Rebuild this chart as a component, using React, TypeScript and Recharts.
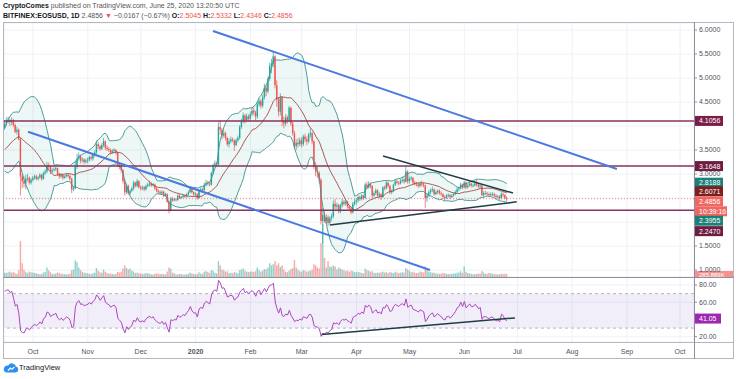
import {
  Area,
  Bar,
  CartesianGrid,
  ComposedChart,
  Line,
  ReferenceArea,
  ReferenceLine,
  XAxis,
  YAxis,
} from 'recharts';

// closes for the 24 days before the first visible candle (needed by BB / RSI)
const warmupCloses = [
  3.55, 3.5, 3.55, 3.6, 3.55, 3.45, 3.3, 3.25, 3.3, 3.28, 3.3, 3.35, 3.4, 3.45,
  3.42, 3.5, 3.55, 3.5, 3.45, 3.5, 3.6, 3.75, 3.85, 3.95,
];

// daily candles, 15 Sep 2019 -> 25 Jun 2020 (open = previous close)
const closes = [
  // Sep
  4.05, 4.1, 4.12, 4.08, 4.12, 4.02, 3.88, 3.92, 3.72, 2.95, 2.85, 2.8, 2.9, 2.92, 2.82, 2.88,
  // Oct
  2.92, 2.95, 2.9, 2.93, 2.98, 2.9, 3.02, 3.05, 3.18, 3.15, 3.05, 3.08, 3.1, 3.12, 3.0, 2.95,
  2.98, 2.92, 2.95, 2.98, 2.96, 2.9, 2.68, 2.7, 3.15, 3.32, 3.38, 3.28, 3.3, 3.25, 3.28,
  // Nov
  3.3, 3.35, 3.32, 3.4, 3.45, 3.62, 3.58, 3.52, 3.6, 3.68, 3.55, 3.52, 3.5, 3.45, 3.48, 3.5,
  3.45, 3.2, 3.15, 3.08, 2.85, 2.62, 2.75, 2.6, 2.65, 2.7, 2.82, 2.75, 2.85, 2.72,
  // Dec
  2.7, 2.72, 2.68, 2.75, 2.78, 2.8, 2.76, 2.78, 2.7, 2.65, 2.62, 2.6, 2.63, 2.55, 2.58, 2.42,
  2.25, 2.48, 2.45, 2.47, 2.46, 2.55, 2.5, 2.52, 2.55, 2.53, 2.58, 2.62, 2.7, 2.62, 2.58,
  // Jan
  2.58, 2.5, 2.65, 2.68, 2.66, 2.78, 2.82, 2.8, 2.78, 3.02, 3.18, 3.22, 3.2, 3.98, 3.92, 3.8,
  3.85, 3.75, 3.62, 3.68, 3.72, 3.7, 3.6, 3.7, 3.75, 3.98, 4.1, 4.22, 4.12, 4.2, 4.15,
  // Feb
  4.25, 4.32, 4.28, 4.2, 4.45, 4.52, 4.42, 4.6, 4.8, 4.72, 4.98, 5.25, 5.3, 5.45, 4.85, 4.55,
  4.3, 4.6, 4.1, 4.05, 4.18, 4.12, 4.38, 4.05, 3.85, 3.58, 3.65, 3.62, 3.7,
  // Mar
  3.62, 3.78, 3.72, 3.68, 3.82, 3.85, 3.68, 3.15, 3.05, 3.02, 2.88, 2.02, 2.15, 2.02, 2.1, 1.98,
  2.08, 2.12, 2.38, 2.32, 2.35, 2.22, 2.35, 2.42, 2.38, 2.42, 2.32, 2.28, 2.2, 2.38, 2.42,
  // Apr
  2.45, 2.52, 2.48, 2.55, 2.5, 2.78, 2.72, 2.8, 2.75, 2.55, 2.6, 2.66, 2.55, 2.58, 2.52, 2.72,
  2.7, 2.82, 2.75, 2.62, 2.65, 2.78, 2.85, 2.82, 2.8, 2.86, 2.88, 2.84, 3.05, 2.85,
  // May
  2.9, 2.92, 2.82, 2.8, 2.78, 2.75, 2.8, 2.78, 2.76, 2.5, 2.55, 2.62, 2.66, 2.68, 2.58, 2.62,
  2.65, 2.6, 2.58, 2.52, 2.5, 2.55, 2.56, 2.52, 2.55, 2.58, 2.62, 2.68, 2.7, 2.78, 2.72,
  // Jun
  2.82, 2.72, 2.76, 2.8, 2.76, 2.76, 2.8, 2.78, 2.74, 2.76, 2.56, 2.6, 2.6, 2.58, 2.56, 2.58,
  2.58, 2.55, 2.52, 2.53, 2.5, 2.58, 2.56, 2.5045, 2.4856,
];

const highs = [
  4.12, 4.18, 4.2, 4.15, 4.18, 4.15, 4.05, 3.98, 3.95, 3.75, 3.0, 2.95, 2.98, 3.0, 2.95, 2.92,
  2.96, 2.99, 2.98, 2.96, 3.02, 3.0, 3.05, 3.1, 3.25, 3.24, 3.18, 3.12, 3.14, 3.15, 3.13, 3.03,
  3.01, 3.0, 2.98, 3.02, 3.01, 2.99, 2.92, 2.75, 3.28, 3.42, 3.45, 3.4, 3.35, 3.33, 3.32,
  3.34, 3.38, 3.39, 3.43, 3.5, 3.7, 3.66, 3.6, 3.64, 3.75, 3.7, 3.6, 3.56, 3.53, 3.52, 3.54,
  3.52, 3.47, 3.25, 3.2, 3.1, 2.88, 2.8, 2.78, 2.68, 2.74, 2.86, 2.84, 2.9, 2.87,
  2.76, 2.76, 2.75, 2.78, 2.82, 2.86, 2.83, 2.81, 2.8, 2.73, 2.68, 2.66, 2.66, 2.65, 2.61, 2.6,
  2.44, 2.52, 2.52, 2.5, 2.5, 2.58, 2.58, 2.54, 2.58, 2.57, 2.6, 2.66, 2.74, 2.72, 2.64,
  2.62, 2.6, 2.68, 2.72, 2.71, 2.82, 2.88, 2.86, 2.84, 3.05, 3.22, 3.28, 3.26, 4.08, 4.12, 3.96,
  3.92, 3.88, 3.78, 3.74, 3.78, 3.76, 3.72, 3.74, 3.8, 4.02, 4.15, 4.28, 4.25, 4.26, 4.24,
  4.3, 4.4, 4.38, 4.32, 4.5, 4.58, 4.56, 4.65, 4.88, 4.85, 5.02, 5.32, 5.4, 5.55, 5.48, 4.95,
  4.6, 4.68, 4.62, 4.2, 4.25, 4.22, 4.42, 4.4, 4.1, 3.9, 3.72, 3.75, 3.76,
  3.76, 3.82, 3.84, 3.78, 3.86, 3.95, 3.88, 3.7, 3.25, 3.15, 3.06, 2.92, 2.3, 2.22, 2.16, 2.14,
  2.12, 2.18, 2.45, 2.48, 2.4, 2.38, 2.38, 2.48, 2.46, 2.46, 2.44, 2.36, 2.32, 2.42, 2.48,
  2.5, 2.56, 2.55, 2.58, 2.57, 2.82, 2.84, 2.85, 2.82, 2.77, 2.64, 2.7, 2.68, 2.62, 2.6, 2.75,
  2.76, 2.86, 2.84, 2.78, 2.68, 2.8, 2.9, 2.88, 2.85, 2.9, 2.94, 2.92, 3.18, 3.08,
  2.94, 2.96, 2.94, 2.86, 2.84, 2.82, 2.84, 2.86, 2.82, 2.78, 2.6, 2.66, 2.7, 2.74, 2.7, 2.66,
  2.68, 2.68, 2.64, 2.6, 2.56, 2.58, 2.6, 2.58, 2.58, 2.61, 2.66, 2.72, 2.74, 2.82, 2.8,
  2.86, 2.85, 2.8, 2.84, 2.83, 2.8, 2.86, 2.88, 2.82, 2.8, 2.78, 2.64, 2.65, 2.63, 2.61, 2.62,
  2.62, 2.61, 2.58, 2.56, 2.56, 2.62, 2.62, 2.58, 2.5332,
];

const lows = [
  3.92, 4.0, 4.05, 4.0, 4.02, 3.98, 3.85, 3.82, 3.7, 2.55, 2.7, 2.72, 2.68, 2.85, 2.78, 2.78,
  2.84, 2.88, 2.87, 2.86, 2.9, 2.86, 2.88, 2.98, 3.02, 3.1, 3.0, 3.02, 3.05, 3.06, 2.96, 2.9,
  2.92, 2.88, 2.9, 2.93, 2.92, 2.86, 2.6, 2.64, 2.68, 3.1, 3.28, 3.22, 3.24, 3.2, 3.22,
  3.22, 3.26, 3.28, 3.28, 3.36, 3.42, 3.52, 3.48, 3.5, 3.56, 3.5, 3.48, 3.46, 3.4, 3.42, 3.44,
  3.4, 3.15, 3.1, 3.02, 2.8, 2.55, 2.58, 2.56, 2.56, 2.62, 2.66, 2.72, 2.72, 2.7,
  2.66, 2.66, 2.64, 2.66, 2.72, 2.74, 2.73, 2.74, 2.67, 2.62, 2.59, 2.57, 2.57, 2.52, 2.53, 2.4,
  2.18, 2.22, 2.42, 2.43, 2.43, 2.44, 2.48, 2.48, 2.5, 2.5, 2.51, 2.55, 2.6, 2.59, 2.54,
  2.54, 2.46, 2.48, 2.62, 2.62, 2.64, 2.74, 2.76, 2.74, 2.76, 2.98, 3.14, 3.16, 3.18, 3.82, 3.72,
  3.76, 3.7, 3.58, 3.55, 3.64, 3.66, 3.48, 3.58, 3.66, 3.72, 3.94, 4.06, 4.05, 4.08, 4.1,
  4.1, 4.2, 4.22, 4.12, 4.15, 4.4, 4.36, 4.38, 4.55, 4.62, 4.68, 4.94, 5.1, 5.22, 4.78, 4.4,
  4.2, 4.22, 4.0, 3.95, 4.0, 4.05, 4.08, 4.0, 3.8, 3.52, 3.5, 3.55, 3.58,
  3.55, 3.58, 3.66, 3.6, 3.64, 3.76, 3.62, 3.1, 2.95, 2.92, 2.8, 1.95, 1.55, 1.98, 1.96, 1.92,
  1.94, 2.02, 2.08, 2.26, 2.26, 2.18, 2.18, 2.3, 2.34, 2.34, 2.28, 2.24, 2.16, 2.18, 2.34,
  2.36, 2.4, 2.44, 2.45, 2.46, 2.48, 2.68, 2.7, 2.7, 2.5, 2.52, 2.56, 2.52, 2.5, 2.46, 2.5,
  2.66, 2.68, 2.72, 2.58, 2.58, 2.62, 2.75, 2.78, 2.76, 2.78, 2.82, 2.8, 2.82, 2.8,
  2.8, 2.86, 2.78, 2.76, 2.74, 2.71, 2.72, 2.74, 2.72, 2.29, 2.42, 2.52, 2.58, 2.62, 2.55, 2.56,
  2.58, 2.57, 2.54, 2.48, 2.45, 2.48, 2.51, 2.48, 2.5, 2.53, 2.56, 2.6, 2.64, 2.68, 2.68,
  2.7, 2.68, 2.7, 2.74, 2.72, 2.72, 2.74, 2.74, 2.7, 2.7, 2.54, 2.52, 2.56, 2.54, 2.52, 2.53,
  2.54, 2.52, 2.48, 2.49, 2.46, 2.48, 2.52, 2.48, 2.4346,
];

// daily volume, thousands
const volumes = [
  420, 380, 450, 520, 400, 480, 350, 300, 620, 3400, 1300, 700, 480, 380, 520, 450,
  420, 380, 350, 300, 260, 280, 420, 480, 900, 620, 450, 300, 280, 350, 420, 380,
  300, 320, 260, 240, 280, 320, 650, 700, 1600, 1400, 900, 650, 500, 420, 380,
  350, 300, 280, 360, 420, 850, 600, 450, 400, 700, 500, 380, 340, 300, 290, 260,
  300, 480, 420, 500, 800, 1100, 850, 700, 800, 600, 520, 380, 420, 360,
  330, 300, 320, 380, 350, 320, 260, 240, 300, 330, 300, 280, 290, 260, 240, 520,
  900, 780, 400, 350, 260, 240, 300, 280, 220, 240, 260, 300, 420, 350, 280,
  250, 300, 450, 320, 300, 500, 560, 480, 380, 650, 580, 400, 350, 1500, 1100, 700,
  650, 500, 550, 380, 400, 350, 480, 420, 350, 650, 700, 800, 600, 500, 480,
  500, 520, 480, 550, 900, 650, 500, 600, 750, 700, 900, 1300, 1100, 1200, 1500, 1100,
  1300, 950, 1100, 700, 500, 450, 600, 750, 850, 1600, 900, 700, 550,
  500, 650, 600, 500, 550, 600, 700, 1200, 1100, 900, 800, 3200, 5000, 1800, 900, 1500,
  1000, 950, 1100, 1000, 700, 900, 800, 700, 650, 550, 600, 500, 600, 550, 480,
  450, 500, 450, 380, 350, 800, 650, 600, 500, 550, 400, 380, 420, 400, 450, 500,
  420, 450, 380, 480, 420, 380, 500, 420, 380, 400, 450, 420, 850, 700,
  600, 450, 500, 400, 380, 400, 520, 480, 420, 1000, 800, 500, 450, 400, 420, 350,
  320, 300, 320, 380, 350, 300, 280, 320, 300, 320, 350, 400, 420, 550, 380,
  1000, 500, 380, 350, 300, 260, 280, 300, 320, 300, 550, 420, 300, 280, 380, 350,
  300, 280, 260, 250, 240, 300, 280, 300, 285.889,
];

// day index 0 = 15 Sep 2019
const monthTicks = [16, 47, 77, 108, 139, 168, 199, 229, 260, 290, 321, 352, 382];
const monthLabels = ['Oct', 'Nov', 'Dec', '2020', 'Feb', 'Mar', 'Apr', 'May', 'Jun', 'Jul', 'Aug', 'Sep', 'Oct'];
const gridPriceTicks = [1, 1.5, 2, 2.5, 3, 3.5, 4, 4.5, 5, 5.5, 6];
const axisPriceTicks = [1, 1.5, 3, 3.5, 4.5, 5, 5.5, 6];
const rsiTicks = [20, 60, 80];

const levels = [4.1056, 3.1648, 2.247];
// [day, price] endpoints
const channelLines = [
  [[117.8, 5.98], [346.3, 3.104]],
  [[13.2, 3.88], [240.6, 1.0]],
];
const triangleLines = [
  [[214, 3.375], [287.5, 2.604]],
  [[184, 1.94], [289.6, 2.42]],
];
const rsiTrend = [[179.3, 22.5], [288.6, 41.8]];

const FONT = '"Liberation Sans", Arial, Helvetica, sans-serif';
const UP = '#26a69a';
const DOWN = '#ef5350';
const DAY_DOMAIN: [number, number] = [-0.4, 389.9];
const PRICE_DOMAIN: [number, number] = [0.8542, 6.1458];
const RSI_DOMAIN: [number, number] = [13.85, 89.3];
const VOL_DOMAIN: [number, number] = [0, 24000];

const allCloses = [...warmupCloses, ...closes];
const OFFSET = warmupCloses.length;

function bollinger(i: number) {
  const win = allCloses.slice(i - 19, i + 1);
  const mean = win.reduce((a, b) => a + b, 0) / win.length;
  const sd = Math.sqrt(win.reduce((a, b) => a + (b - mean) ** 2, 0) / win.length);
  return { basis: mean, upper: mean + 2 * sd, lower: mean - 2 * sd };
}

function rsiOf(values: number[], period = 14) {
  const out: number[] = new Array(values.length).fill(NaN);
  let g = 0;
  let l = 0;
  for (let i = 1; i < values.length; i++) {
    const ch = values[i] - values[i - 1];
    const gain = Math.max(ch, 0);
    const loss = Math.max(-ch, 0);
    if (i <= period) {
      g += gain / period;
      l += loss / period;
    } else {
      g = (g * (period - 1) + gain) / period;
      l = (l * (period - 1) + loss) / period;
    }
    if (i >= period) out[i] = l === 0 ? 100 : 100 - 100 / (1 + g / l);
  }
  return out;
}

const rsiAll = rsiOf(allCloses);

const rows = closes.map((close, d) => {
  const i = d + OFFSET;
  const open = allCloses[i - 1];
  const high = Math.max(highs[d], open, close);
  const low = Math.min(lows[d], open, close);
  const bb = bollinger(i);
  return {
    day: d,
    open,
    close,
    high,
    low,
    range: [low, high],
    volume: volumes[d],
    ...bb,
    band: [bb.lower, bb.upper],
    rsi: rsiAll[i],
  };
});

function Candle(props: any) {
  const { x, y, width, height, payload } = props;
  if (!payload || !isFinite(y)) return null;
  const { open, close, high, low } = payload;
  const color = close >= open ? UP : DOWN;
  const cx = x + width / 2;
  const k = high - low > 0 ? height / (high - low) : 0;
  const top = y + (high - Math.max(open, close)) * k;
  const bh = Math.max(Math.abs(open - close) * k, 0.8);
  return (
    <g>
      <line x1={cx} x2={cx} y1={y} y2={y + height} stroke={color} strokeWidth={0.7} />
      <rect x={cx - 0.7} y={top} width={1.4} height={bh} fill={color} />
    </g>
  );
}

function VolumeBar(props: any) {
  const { x, y, width, height, payload } = props;
  if (!payload || !(height > 0)) return null;
  const color = payload.close >= payload.open ? UP : DOWN;
  return <rect x={x + width / 2 - 0.7} y={y} width={1.4} height={height} fill={color} fillOpacity={0.5} />;
}

function AxisTag({ viewBox, text, bg, dy = 0, w = 28, h = 10, fs = 7 }: any) {
  if (!viewBox) return null;
  const x = viewBox.x + viewBox.width + 1;
  const y = viewBox.y + dy;
  return (
    <g>
      <rect x={x} y={y - h / 2} width={w} height={h} fill={bg} />
      <text x={x + 4} y={y + fs * 0.36} fontSize={fs} fill="#fff" fontFamily={FONT}>
        {text}
      </text>
    </g>
  );
}

const tag = (items: { text: string; bg: string; dy?: number; w?: number; h?: number; fs?: number }[]) => (p: any) => (
  <g>
    {items.map((it) => (
      <AxisTag key={it.text} viewBox={p.viewBox} {...it} />
    ))}
  </g>
);

function DateTick({ x, y, payload }: any) {
  const label = monthLabels[monthTicks.indexOf(payload.value)] ?? '';
  return (
    <text x={x} y={y + 12.3} textAnchor="middle" fontSize={7} fill="#50535e" fontWeight={label === '2020' ? 700 : 400} fontFamily={FONT}>
      {label}
    </text>
  );
}

function VolumeLayer() {
  return (
    <ComposedChart width={736} height={254} data={rows} margin={{ top: 0, right: 42, bottom: 0, left: 4 }}>
      <CartesianGrid stroke="#eef1f6" yAxisId="price" />
      <XAxis dataKey="day" type="number" domain={DAY_DOMAIN} allowDataOverflow ticks={monthTicks} interval={0} hide />
      <YAxis yAxisId="price" domain={PRICE_DOMAIN} allowDataOverflow ticks={gridPriceTicks} interval={0} hide />
      <YAxis yAxisId="vol" domain={VOL_DOMAIN} allowDataOverflow hide />
      <Bar yAxisId="vol" dataKey="volume" barSize={1.4} shape={(p: any) => <VolumeBar {...p} />} isAnimationActive={false} />
      <ReferenceLine
        yAxisId="vol"
        y={285.889}
        stroke="none"
        label={tag([{ text: '285.889K', bg: '#f4908d', w: 38, dy: 0.4, h: 7, fs: 6 }])}
      />
    </ComposedChart>
  );
}

function PriceLayer() {
  return (
    <ComposedChart width={736} height={254} data={rows} margin={{ top: 0, right: 0, bottom: 0, left: 4 }}>
      <XAxis dataKey="day" type="number" domain={DAY_DOMAIN} allowDataOverflow hide />
      <YAxis
        orientation="right"
        width={42}
        domain={PRICE_DOMAIN}
        allowDataOverflow
        ticks={axisPriceTicks}
        interval={0}
        tickFormatter={(v: number) => v.toFixed(4)}
        tick={{ fontSize: 7, fill: '#50535e' }}
        tickLine={{ stroke: '#8d9098' }}
        tickSize={3}
        tickMargin={2}
        axisLine={false}
      />
      <Area dataKey="band" stroke="none" fill="#00897b" fillOpacity={0.07} isAnimationActive={false} />
      <Line dataKey="upper" stroke="#3c928c" strokeWidth={0.9} dot={false} isAnimationActive={false} />
      <Line dataKey="lower" stroke="#3c928c" strokeWidth={0.9} dot={false} isAnimationActive={false} />
      <Line dataKey="basis" stroke="#a04a45" strokeWidth={0.9} dot={false} isAnimationActive={false} />
      {levels.map((v) => (
        <ReferenceLine key={v} y={v} stroke="#86325e" strokeWidth={1.5} />
      ))}
      <ReferenceLine y={2.4856} stroke="#ef5350" strokeOpacity={0.7} strokeDasharray="1 2" />
      <Bar dataKey="range" barSize={1.4} shape={(p: any) => <Candle {...p} />} isAnimationActive={false} />
      {channelLines.map(([a, b], i) => (
        <ReferenceLine
          key={'c' + i}
          segment={[{ x: a[0], y: a[1] }, { x: b[0], y: b[1] }]}
          stroke="#4a7ae0"
          strokeWidth={2}
          ifOverflow="visible"
        />
      ))}
      {triangleLines.map(([a, b], i) => (
        <ReferenceLine
          key={'t' + i}
          segment={[{ x: a[0], y: a[1] }, { x: b[0], y: b[1] }]}
          stroke="#1f3d45"
          strokeWidth={1.5}
          ifOverflow="visible"
        />
      ))}
      <ReferenceLine y={4.1056} stroke="none" label={tag([{ text: '4.1056', bg: '#7b1d48' }])} />
      <ReferenceLine y={3.1648} stroke="none" label={tag([{ text: '3.1648', bg: '#6e1c3f' }])} />
      <ReferenceLine y={2.8188} stroke="none" label={tag([{ text: '2.8188', bg: '#1b8078' }])} />
      <ReferenceLine y={2.6071} stroke="none" label={tag([{ text: '2.6071', bg: '#7c1f1f', dy: -1.6 }])} />
      <ReferenceLine
        y={2.4856}
        stroke="none"
        label={tag([
          { text: '2.4856', bg: '#f06762', dy: 2.6 },
          { text: '10:39:16', bg: '#f06762', dy: 12.6, w: 32 },
        ])}
      />
      <ReferenceLine y={2.3955} stroke="none" label={tag([{ text: '2.3955', bg: '#1b8078', dy: 17.7 }])} />
      <ReferenceLine y={2.247} stroke="none" label={tag([{ text: '2.2470', bg: '#6e1c3f', dy: 21 }])} />
    </ComposedChart>
  );
}

function RsiPane() {
  return (
    <ComposedChart width={736} height={81} data={rows} margin={{ top: 0, right: 0, bottom: 0, left: 4 }}>
      <CartesianGrid stroke="#eef1f6" />
      <XAxis
        dataKey="day"
        type="number"
        domain={DAY_DOMAIN}
        allowDataOverflow
        ticks={monthTicks}
        interval={0}
        height={16}
        axisLine={false}
        tickLine={false}
        tickSize={0}
        tickMargin={0}
        tick={(p: any) => <DateTick {...p} />}
      />
      <YAxis
        orientation="right"
        width={42}
        domain={RSI_DOMAIN}
        allowDataOverflow
        ticks={rsiTicks}
        interval={0}
        tickFormatter={(v: number) => v.toFixed(2)}
        tick={{ fontSize: 7, fill: '#50535e' }}
        tickLine={{ stroke: '#8d9098' }}
        tickSize={3}
        tickMargin={2}
        axisLine={false}
      />
      <ReferenceArea y1={30} y2={70} fill="#7e57c2" fillOpacity={0.1} stroke="none" />
      <ReferenceLine y={70} stroke="#b8b0c8" strokeDasharray="3 3" />
      <ReferenceLine y={30} stroke="#b8b0c8" strokeDasharray="3 3" />
      <Line dataKey="rsi" stroke="#ab47bc" strokeWidth={1} dot={false} isAnimationActive={false} />
      <ReferenceLine
        segment={[{ x: rsiTrend[0][0], y: rsiTrend[0][1] }, { x: rsiTrend[1][0], y: rsiTrend[1][1] }]}
        stroke="#1f3d45"
        strokeWidth={1.5}
        ifOverflow="visible"
      />
      <ReferenceLine y={41.05} stroke="none" label={tag([{ text: '41.05', bg: '#9c27b0', w: 26 }])} />
    </ComposedChart>
  );
}

const red = { color: '#ef5350' };

export default function App() {
  return (
    <div
      style={{
        position: 'fixed',
        left: 0,
        top: 0,
        width: 736,
        height: 379,
        background: '#fff',
        fontFamily: FONT,
        overflow: 'hidden',
      }}
    >
      <div style={{ position: 'absolute', left: 3, top: 1, fontSize: 7, lineHeight: '10px', color: '#555', whiteSpace: 'nowrap' }}>
        <b style={{ color: '#131722' }}>CryptoComes</b> published on TradingView.com, June 25, 2020 13:20:50 UTC
      </div>
      <div style={{ position: 'absolute', left: 3, top: 10.5, fontSize: 7, lineHeight: '10px', color: '#555', whiteSpace: 'nowrap' }}>
        <b style={{ color: '#131722' }}>BITFINEX:EOSUSD, 1D</b> 2.4856 <span style={red}>▼</span> −0.0167 (−0.67%){' '}
        <b style={{ color: '#131722' }}>O:</b>
        <span style={red}>2.5045</span> <b style={{ color: '#131722' }}>H:</b>
        <span style={red}>2.5332</span> <b style={{ color: '#131722' }}>L:</b>
        <span style={red}>2.4346</span> <b style={{ color: '#131722' }}>C:</b>
        <span style={red}>2.4856</span>
      </div>

      <div style={{ position: 'absolute', left: 0, top: 23 }}>
        <VolumeLayer />
      </div>
      <div style={{ position: 'absolute', left: 0, top: 23 }}>
        <PriceLayer />
      </div>
      <div style={{ position: 'absolute', left: 0, top: 277, background: '#fff' }}>
        <RsiPane />
      </div>

      <div style={{ position: 'absolute', left: 3, top: 22, width: 731, height: 337, border: '1px solid #b4b7bf', boxSizing: 'border-box' }} />
      <div style={{ position: 'absolute', left: 3, top: 277, width: 731, height: 1, background: '#8d9098' }} />
      <div style={{ position: 'absolute', left: 3, top: 342, width: 731, height: 1, background: '#b4b7bf' }} />
      <div style={{ position: 'absolute', left: 694, top: 22, width: 1, height: 337, background: '#8d9098' }} />

      <svg style={{ position: 'absolute', left: 3, top: 362 }} width={16} height={11}>
        <path d="M3.5 10.5 H12.5 A3 3 0 0 0 13 4.6 A4.2 4.2 0 0 0 5.2 3.6 A3.4 3.4 0 0 0 3.5 10.5 Z" fill="#2f8fef" />
        <path d="M5 8.5 L7.5 6 L9 7.3 L11.5 5" stroke="#fff" strokeWidth={1.1} fill="none" />
      </svg>
      <div style={{ position: 'absolute', left: 19, top: 363, fontSize: 7.5, lineHeight: '10px', color: '#131722' }}>TradingView</div>
    </div>
  );
}
